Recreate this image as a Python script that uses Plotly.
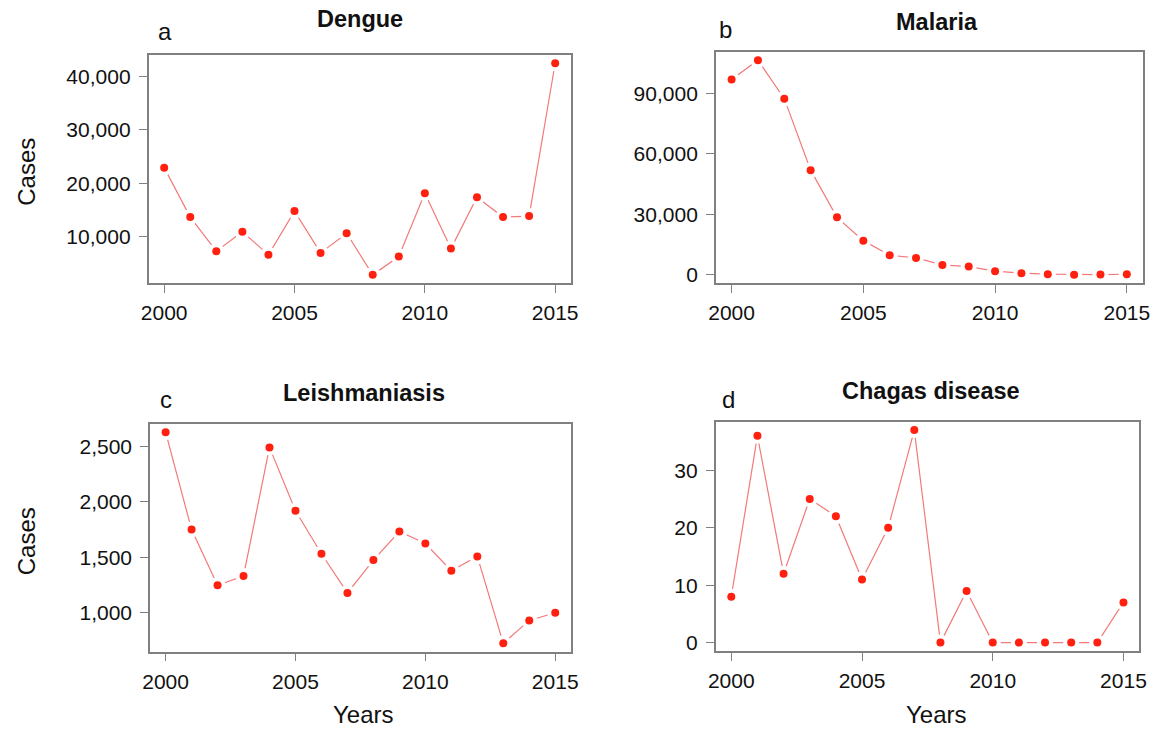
import plotly.graph_objects as go

# Annual case counts, 2000-2015
years = list(range(2000, 2016))
dengue = [22940, 13680, 7290, 10940, 6600, 14800, 6970, 10640,
          2870, 6280, 18150, 7770, 17400, 13680, 13860, 42500]
malaria = [96930, 106500, 87400, 51930, 28530, 16970, 9730, 8400,
           4950, 4120, 1810, 820, 330, 100, 150, 300]
leishmaniasis = [2628, 1750, 1248, 1332, 2491, 1920, 1532, 1179,
                 1475, 1732, 1624, 1379, 1508, 725, 931, 1000]
chagas = [8, 36, 12, 25, 22, 11, 20, 37, 0, 9, 0, 0, 0, 0, 0, 7]

x_ticks = [2000, 2005, 2010, 2015]
dengue_ticks = [10000, 20000, 30000, 40000]
malaria_ticks = [0, 30000, 60000, 90000]
leish_ticks = [1000, 1500, 2000, 2500]
chagas_ticks = [0, 10, 20, 30]

W, H = 1159, 730
FONT = "Liberation Sans, Arial, sans-serif"
AXIS_GREY = "#808080"
LINE_COL = "#f27a7a"
PT_COL = "#ff200f"


def px_x(v):
    return v / W


def px_y(v):
    return 1 - v / H


def pad_range(vals):
    lo, hi = min(vals), max(vals)
    d = (hi - lo) * 0.04
    return [lo - d, hi + d]


panels = [
    # (data, yticks, x-domain px, y-domain px (top, bottom))
    (dengue, dengue_ticks, (142.5, 570.7), (55.0, 284.4)),
    (malaria, malaria_ticks, (717.7, 1150.5), (51.8, 284.4)),
    (leishmaniasis, leish_ticks, (144.0, 570.7), (425.5, 654.4)),
    (chagas, chagas_ticks, (717.5, 1147.0), (423.3, 653.8)),
]

fig = go.Figure()
layout = {}
for i, (vals, yt, (xl, xr), (yt_px, yb_px)) in enumerate(panels, start=1):
    xa = "x" if i == 1 else f"x{i}"
    ya = "y" if i == 1 else f"y{i}"
    # connecting line
    fig.add_trace(go.Scatter(x=years, y=vals, mode="lines", xaxis=xa, yaxis=ya,
                             line=dict(color=LINE_COL, width=1.2),
                             hoverinfo="skip", showlegend=False))
    # white halo so the line breaks around each point
    fig.add_trace(go.Scatter(x=years, y=vals, mode="markers", xaxis=xa, yaxis=ya,
                             marker=dict(color="white", size=16, line=dict(width=0)),
                             hoverinfo="skip", showlegend=False))
    fig.add_trace(go.Scatter(x=years, y=vals, mode="markers", xaxis=xa, yaxis=ya,
                             marker=dict(color=PT_COL, size=8, line=dict(width=0)),
                             showlegend=False))
    common = dict(showline=True, mirror=True, linecolor=AXIS_GREY, linewidth=1.5,
                  ticks="outside", ticklen=8, tickwidth=1.3, tickcolor=AXIS_GREY,
                  showgrid=False, zeroline=False,
                  tickfont=dict(family=FONT, size=21, color="#111111"))
    layout["xaxis" if i == 1 else f"xaxis{i}"] = dict(
        common, domain=[px_x(xl), px_x(xr)], range=[1999.4, 2015.6],
        tickvals=x_ticks, anchor=ya, ticklabelstandoff=2)
    layout["yaxis" if i == 1 else f"yaxis{i}"] = dict(
        common, domain=[px_y(yb_px), px_y(yt_px)], range=pad_range(vals),
        tickvals=yt, tickformat=",", anchor=xa, ticklabelstandoff=4)

fig.update_layout(**layout)


def label(text, x, y, size, bold=False, angle=0):
    fig.add_annotation(text=f"<b>{text}</b>" if bold else text,
                       x=px_x(x), y=px_y(y), xref="paper", yref="paper",
                       xanchor="center", yanchor="middle", showarrow=False,
                       textangle=angle,
                       font=dict(family=FONT, size=size, color="#111111"))


# panel titles
label("Dengue", 356.7, 19.0, 23.5, bold=True)
label("Malaria", 941.5, 22.3, 23.5, bold=True)
label("Leishmaniasis", 361.0, 394.6, 23.5, bold=True)
label("Chagas disease", 936.0, 393.0, 23.5, bold=True)
# panel letters
label("a", 159, 31.5, 24)
label("b", 728, 30.0, 24)
label("c", 160, 401.3, 24)
label("d", 731, 401.3, 24)
# axis titles
label("Cases", 18.7, 172, 24, angle=-90)
label("Cases", 18.7, 543, 24, angle=-90)
label("Years", 360.7, 717.0, 24)
label("Years", 942.0, 717.0, 24)

fig.update_layout(width=W, height=H, margin=dict(l=0, r=0, t=0, b=0),
                  paper_bgcolor="white", plot_bgcolor="white")

fig.write_html("out.html")
